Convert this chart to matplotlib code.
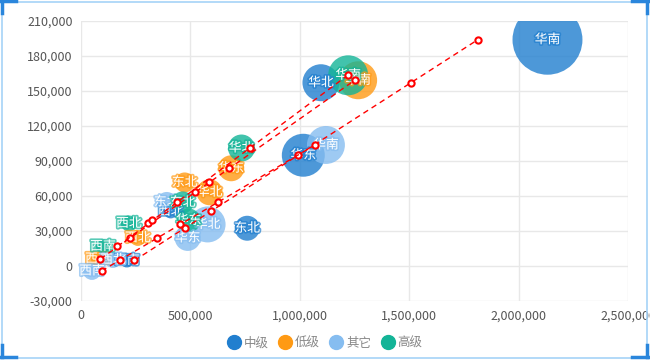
import numpy as np
import matplotlib
matplotlib.use("Agg")
import matplotlib.pyplot as plt
import matplotlib.patheffects as pe
from matplotlib.lines import Line2D
from matplotlib.patches import Rectangle
from matplotlib.ticker import FuncFormatter

plt.rcParams['font.family'] = ['Noto Sans CJK SC', 'DejaVu Sans']

# 系列与区域
series = ["中级", "低级", "其它", "高级"]
colors = ["#217fcf", "#ff9a14", "#86bdf0", "#13b497"]

regions = ["华南", "华北", "华东", "东北", "西北", "西南"]

# x: 销售额, y: 利润, z: 气泡大小值
x_mid = [2132000, 1096600, 1016000, 759500, 410000, 209600]
y_mid = [193700, 156900, 94800, 32300, 46700, 4700]
z_mid = [12250, 3420, 4620, 1560, 490, 490]

x_low = [1266600, 587700, 686600, 473800, 259700, 77500]
y_low = [159000, 63100, 83650, 71500, 24000, 6000]
z_low = [3610, 1690, 1690, 1000, 640, 490]

x_oth = [1119400, 578600, 487500, 391800, 145800, 50100]
y_oth = [103600, 35550, 24000, 54800, 5160, -4260]
z_oth = [3610, 3240, 1690, 1000, 640, 810]

x_high = [1221000, 733500, 492000, 464700, 218700, 100200]
y_high = [163260, 101000, 38970, 54400, 36400, 16700]
z_high = [4000, 1820, 1440, 1210, 640, 490]

xs = [x_mid, x_low, x_oth, x_high]
ys = [y_mid, y_low, y_oth, y_high]
zs = [z_mid, z_low, z_oth, z_high]

fig = plt.figure(figsize=(6.5, 3.61), dpi=100)
ax = fig.add_axes([81/650, 60/361, 547/650, 280.3/361])

for name, c, x, y, z in zip(series, colors, xs, ys, zs):
    x = np.array(x); y = np.array(y); z = np.array(z)
    ax.scatter(x, y, s=z*0.207, color=c, alpha=0.8, edgecolors='none', zorder=2)

# 回归线 (x 对 y 回归)
for x, y in zip(xs, ys):
    x = np.array(x); y = np.array(y)
    k, b = np.polyfit(y, x, 1)
    order = np.argsort(y)
    ax.plot(k*y[order] + b, y[order], color='red', lw=1, ls=(0, (4, 3)),
            marker='o', ms=4.5, mfc='white', mec='red', mew=1.5, zorder=4)

# 标签
for c, x, y in zip(colors, xs, ys):
    for lab, xi, yi in zip(regions, x, y):
        ax.text(xi, yi, lab, ha='center', va='center', fontsize=9.2, color='white',
                zorder=3, path_effects=[pe.withStroke(linewidth=2.4, foreground=c, alpha=0.7)])

ax.set_xlim(0, 2500000)
ax.set_ylim(-30000, 210000)
ax.set_xticks(np.arange(0, 2500001, 500000))
ax.set_yticks(np.arange(-30000, 210001, 30000))
fmt = FuncFormatter(lambda v, p: f"{int(v):,}")
ax.xaxis.set_major_formatter(fmt)
ax.yaxis.set_major_formatter(fmt)
ax.grid(True, color='#e8e8e8', lw=1, zorder=0)
ax.set_axisbelow(True)
for s in ax.spines.values():
    s.set_visible(False)
ax.tick_params(length=0, labelsize=9, colors='#555555', pad=6)

handles = [Line2D([], [], ls='none', marker='o', ms=10, color=c) for c in colors]
leg = fig.legend(handles, series, loc='lower center', bbox_to_anchor=(0.5, 0.0), ncol=4,
                 frameon=False, fontsize=9, handlelength=1.0, handletextpad=0.3,
                 columnspacing=0.8)
for t in leg.get_texts():
    t.set_color('#888888')

# 外框
W, H = 650, 361
fig.add_artist(Rectangle((1.5/W, 3.5/H), 645/W, 356/H, transform=fig.transFigure,
                         fill=False, ec='#a6d3f7', lw=1.2))
dark = '#2a86dc'
corners = [
    ([0, 16], [H-1, H-1]), ([2, 2], [H, H-13]),
    ([0, 16], [4, 4]), ([2, 2], [4, 16]),
    ([632, 648], [4, 4]), ([647, 647], [4, 16]),
    ([632, 648], [H-1, H-1]), ([647, 647], [H, H-13]),
]
for px, py in corners:
    fig.add_artist(Line2D(np.array(px)/W, np.array(py)/H, transform=fig.transFigure,
                          color=dark, lw=2.5))

fig.savefig("out.png", dpi=100)
